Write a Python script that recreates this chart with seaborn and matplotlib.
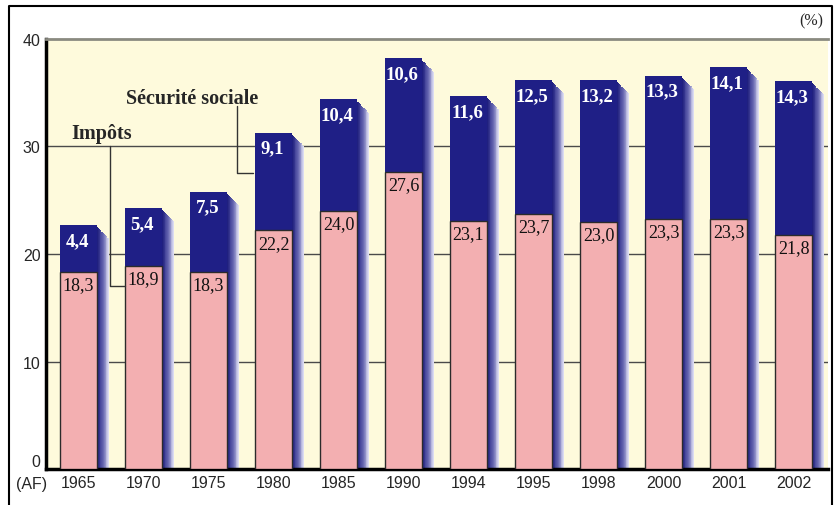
import numpy as np
import seaborn as sns
import matplotlib.pyplot as plt
from matplotlib.colors import LinearSegmentedColormap

years = ['1965', '1970', '1975', '1980', '1985', '1990', '1994', '1995', '1998', '2000', '2001', '2002']
impots = [18.3, 18.9, 18.3, 22.2, 24.0, 27.6, 23.1, 23.7, 23.0, 23.3, 23.3, 21.8]
secu = [4.4, 5.4, 7.5, 9.1, 10.4, 10.6, 11.6, 12.5, 13.2, 13.3, 14.1, 14.3]
totals = [a + b for a, b in zip(impots, secu)]

navy = '#1f1f86'
pink = '#f3afb1'
serif = 'Liberation Serif'
sans = 'Liberation Sans'

sns.set_style('white')
fig = plt.figure(figsize=(8.4, 5.06), dpi=100)
ax = fig.add_axes([0.0548, 0.0711, 0.9309, 0.8499])
ax.set_facecolor('#fefadc')

# grilles derrière les barres
for g in [10, 20, 30]:
    ax.axhline(g, color='#4a4a4a', lw=1, zorder=0)

w = 0.57
sns.barplot(x=years, y=totals, color=navy, saturation=1, width=w, ax=ax, zorder=2, linewidth=0)
sns.barplot(x=years, y=impots, color=pink, saturation=1, width=w, ax=ax, zorder=3,
            edgecolor='#2b2b2b', linewidth=1)

# ombre en dégradé à droite de chaque barre
cmap = LinearSegmentedColormap.from_list('ombre', ['#20207f', '#6262ae', '#dcdcf2'])
n = 14
dx = 0.185 / n
for i, t in enumerate(totals):
    for k in range(n):
        ax.bar(i + w / 2 + (k + 0.5) * dx, t - 0.15 - (k + 1) * 1.1 / n, width=dx * 1.05,
               color=cmap(k / (n - 1)), linewidth=0, zorder=1.5)

# étiquettes de valeurs
for i in range(len(years)):
    ax.text(i, impots[i] - 0.4, f'{impots[i]:.1f}'.replace('.', ','), ha='center', va='top',
            fontsize=13, family=serif, color='#111111', zorder=5)
    ax.text(i - 0.02, totals[i] - 0.65, f'{secu[i]:.1f}'.replace('.', ','), ha='center', va='top',
            fontsize=13.5, family=serif, fontweight='bold', color='white', zorder=5)

# légendes avec traits de rappel
ax.text(0.35, 31.3, 'Impôts', ha='center', va='center', fontsize=14.5, family=serif,
        fontweight='bold', zorder=6)
ax.plot([0.49, 0.49, 0.72], [30.0, 17.0, 17.0], color='#333333', lw=1, zorder=6)
ax.text(1.75, 34.5, 'Sécurité sociale', ha='center', va='center', fontsize=14.5, family=serif,
        fontweight='bold', zorder=6)
ax.plot([2.44, 2.44, 2.69], [33.8, 27.5, 27.5], color='#333333', lw=1, zorder=6)

ax.set_xlim(-0.5, 11.53)
ax.set_ylim(0, 40)
ax.set_yticks([0, 10, 20, 30, 40])
ax.set_xlabel('')
ax.set_ylabel('')
ax.tick_params(axis='both', length=0, labelsize=11.5, pad=4)
for lab in ax.get_xticklabels() + ax.get_yticklabels():
    lab.set_family(sans)
ax.get_yticklabels()[0].set_va('bottom')

for s in ['right']:
    ax.spines[s].set_visible(False)
ax.spines['top'].set_color('#8a8a80')
ax.spines['top'].set_linewidth(2)
ax.spines['left'].set_color('black')
ax.spines['left'].set_linewidth(2.5)
ax.spines['bottom'].set_color('black')
ax.spines['bottom'].set_linewidth(2.5)

ax.text(-0.019, -0.033, '(AF)', transform=ax.transAxes, ha='center', va='center',
        fontsize=11.5, family=sans)
fig.text(0.98, 0.958, '(%)', ha='right', va='center', fontsize=11.5, family=serif)

# cadre extérieur
fig.add_artist(plt.Line2D([0.0107, 0.0107, 0.9905, 0.9905], [0.0, 0.986, 0.986, 0.0],
                          color='black', lw=1.5, transform=fig.transFigure))

fig.savefig('out.png', dpi=100)
